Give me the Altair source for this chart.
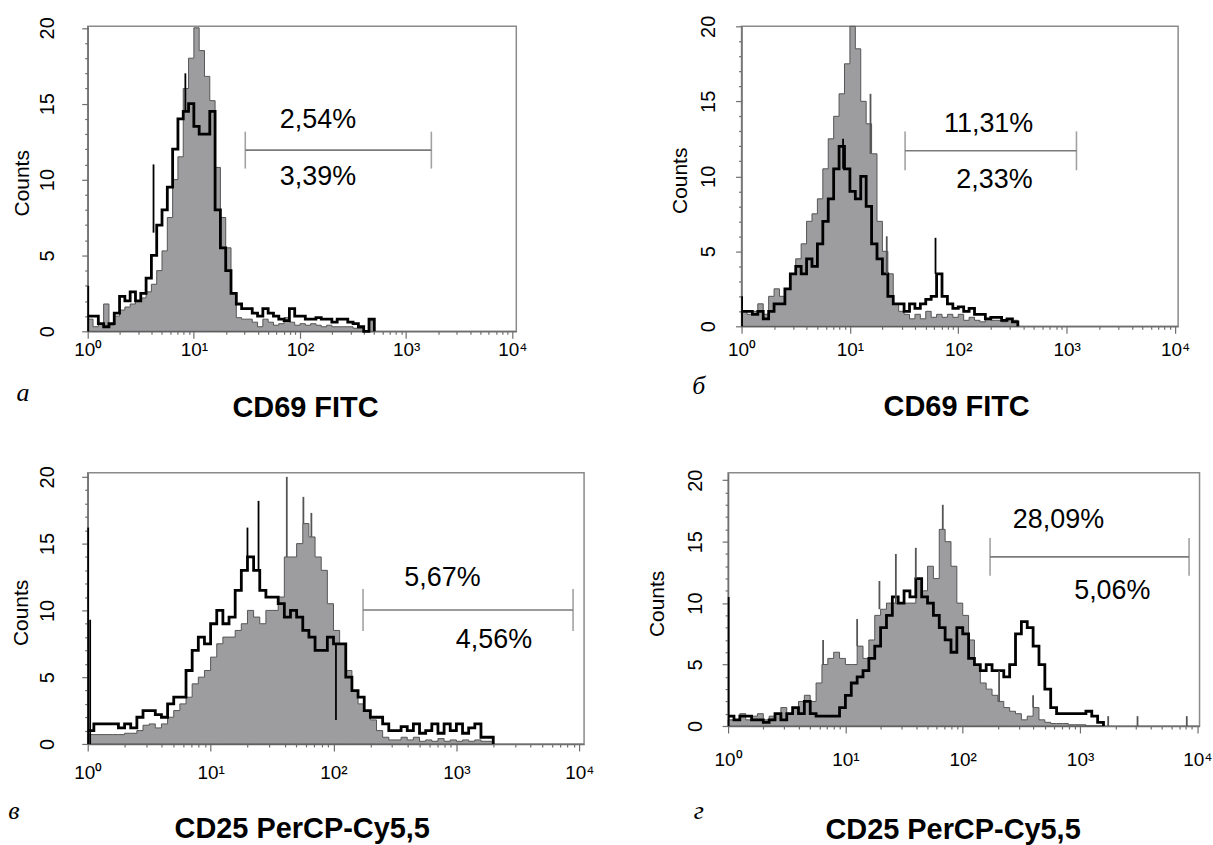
import altair as alt
import pandas as pd

STEP = 0.05  # histogram channel width, in decades

# ---------------- tick positions ----------------
X_TICKS = [m * 10 ** e for e in range(4) for m in range(1, 10)] + [10000]
Y_TICKS = list(range(0, 21))
SUPERSCRIPTS = ["⁰", "¹", "²", "³", "⁴"]

# ---------------- panel а ----------------
a_gray = [0.8, 0.3, 0.5, 1.8, 0.4, 1.0, 1.4, 1.6, 1.8, 2.0, 2.2, 2.6, 3.1, 4.0, 5.3, 7.5, 10.0, 11.5,
          16.0, 18.0, 20.0, 18.5, 16.8, 15.2, 10.8, 7.5, 5.5, 2.5, 0.9, 0.8, 0.8, 0.6, 0.3, 0.8, 0.6,
          0.4, 0.5, 0.9, 0.6, 0.4, 0.5, 0.4, 0.5, 0.4, 0.3, 0.4, 0.3, 0.3, 0.3, 0.3, 0.2, 0.2, 0.0,
          0.7, 0.0]
a_black = [1.0, 1.0, 0.5, 0.3, 0.5, 1.2, 2.3, 2.0, 2.6, 2.0, 2.5, 3.5, 5.0, 7.0, 8.0, 9.5, 12.0, 14.0,
           14.5, 15.0, 13.5, 13.0, 13.0, 14.5, 8.0, 5.5, 4.0, 2.5, 1.8, 1.5, 1.5, 1.2, 1.0, 1.5, 1.2,
           1.0, 0.8, 0.7, 1.5, 1.0, 1.0, 0.8, 0.8, 0.9, 0.8, 0.8, 0.6, 0.8, 0.8, 0.6, 0.5, 0.3, 0.0,
           0.8, 0.0]
a_spike_series = ["black", "black", "black"]
a_spike_log = [0.005, 0.62, 0.92]
a_spike_lo = [0.0, 6.5, 14.5]
a_spike_hi = [3.0, 11.0, 17.0]
a_gate = [30.5, 1727.0, 11.94]
a_pct_text = ["2,54%", "3,39%"]
a_pct_x = [147.6, 147.6]
a_pct_y = [13.9, 10.2]

# ---------------- panel б ----------------
b_gray = [1.0, 0.8, 1.0, 1.5, 0.8, 2.0, 2.5, 2.0, 2.5, 3.5, 4.5, 5.5, 7.0, 7.5, 8.5, 10.5, 12.5, 14.0,
          15.5, 17.5, 20.0, 18.5, 15.0, 13.5, 11.5, 7.0, 5.0, 3.5, 1.5, 1.0, 0.8, 0.5, 0.8, 0.5, 1.0,
          0.6, 0.8, 0.6, 0.8, 0.6, 0.8, 0.4, 0.6, 0.4, 0.3, 0.5, 0.4, 0.4, 0.3, 0.5, 0.4, 0.0]
b_black = [1.0, 1.0, 0.8, 1.0, 0.5, 1.0, 1.5, 1.5, 2.5, 3.5, 4.0, 3.5, 4.5, 4.0, 5.5, 7.0, 8.5, 10.5,
           12.0, 10.5, 9.0, 8.5, 10.0, 8.0, 5.5, 4.5, 3.5, 2.0, 1.5, 1.5, 1.0, 1.5, 1.2, 1.5, 1.8,
           2.0, 3.5, 2.0, 1.5, 1.2, 1.3, 1.0, 1.2, 0.8, 0.8, 0.5, 0.6, 0.6, 0.4, 0.5, 0.3, 0.0]
b_spike_series = ["black", "black", "gray", "gray", "black"]
b_spike_log = [0.005, 1.79, 1.19, 1.34, 0.937]
b_spike_lo = [0.0, 3.5, 11.5, 3.5, 10.5]
b_spike_hi = [2.0, 5.9, 15.5, 6.0, 12.5]
b_gate = [32.3, 1233.0, 11.7]
b_pct_text = ["11,31%", "2,33%"]
b_pct_x = [190.6, 216.0]
b_pct_y = [13.5, 9.75]

# ---------------- panel в ----------------
c_gray = [0.7, 0.7, 0.7, 0.7, 0.7, 0.7, 0.8, 0.8, 1.0, 1.4, 1.5, 1.2, 1.5, 2.0, 2.5, 3.0, 3.5, 4.5,
          5.0, 5.5, 6.5, 7.5, 8.0, 8.0, 8.5, 9.0, 10.0, 9.5, 9.0, 10.0, 10.0, 11.0, 14.0, 14.0, 15.0,
          16.5, 15.5, 14.0, 13.0, 10.5, 8.5, 7.5, 5.5, 4.0, 3.0, 2.5, 1.8, 1.0, 0.5, 0.3, 0.3, 0.5,
          0.3, 0.5, 0.2, 0.3, 0.2, 0.4, 0.2, 0.3, 0.2, 0.3, 0.2, 0.3, 0.2, 0.2, 0.0]
c_black = [1.0, 1.5, 1.5, 1.5, 1.5, 1.2, 1.5, 1.2, 2.0, 2.5, 2.5, 2.2, 2.0, 3.0, 3.5, 3.5, 5.5, 7.0,
           8.0, 7.5, 9.0, 10.0, 9.0, 9.5, 11.5, 13.0, 14.0, 13.0, 11.5, 11.0, 11.0, 10.5, 9.5, 10.0,
           9.5, 8.5, 8.0, 7.0, 7.0, 8.0, 7.5, 7.5, 5.0, 4.0, 3.5, 2.5, 2.0, 2.0, 1.5, 1.0, 1.0, 1.3,
           1.0, 1.5, 0.8, 1.0, 1.5, 0.8, 1.5, 1.0, 1.5, 0.8, 1.2, 1.5, 0.5, 0.5, 0.0]
c_spike_series = ["black", "black", "black", "black", "gray", "gray", "gray", "black"]
c_spike_log = [0.004, 0.02, 1.30, 1.39, 1.62, 1.755, 1.82, 2.02]
c_spike_lo = [0.0, 0.0, 14.0, 13.0, 14.0, 16.5, 15.5, 1.8]
c_spike_hi = [16.2, 9.3, 16.2, 18.2, 20.0, 18.5, 17.3, 7.5]
c_gate = [174.0, 8900.0, 10.03]
c_pct_text = ["5,67%", "4,56%"]
c_pct_x = [771.0, 2023.0]
c_pct_y = [12.4, 7.75]

# ---------------- panel г ----------------
d_gray = [0.5, 0.5, 1.0, 0.5, 0.8, 1.0, 0.5, 0.8, 1.0, 1.5, 1.0, 1.5, 2.0, 2.5, 2.0, 3.5, 5.0, 5.5,
          6.0, 5.5, 5.0, 5.0, 6.5, 5.5, 7.0, 9.0, 9.5, 10.0, 10.0, 10.0, 10.0, 10.0, 12.0, 11.0, 13.0,
          12.0, 16.0, 15.0, 13.0, 10.0, 9.0, 7.0, 5.0, 3.5, 3.0, 2.5, 2.0, 1.5, 1.2, 1.0, 0.5, 0.8,
          1.5, 0.5, 0.3, 0.2, 0.2, 0.2, 0.1, 0.1, 0.1, 0.0, 0.0, 0.0, 0.0]
d_black = [0.8, 0.5, 0.8, 0.8, 0.5, 0.5, 0.3, 0.5, 1.0, 0.5, 1.0, 1.5, 1.0, 2.0, 1.0, 0.8, 0.8, 0.8,
           0.8, 1.5, 2.5, 3.5, 4.0, 4.5, 5.5, 6.5, 8.0, 9.0, 10.5, 10.0, 11.0, 10.5, 12.0, 10.5, 10.0,
           9.0, 8.0, 7.0, 6.0, 8.0, 7.5, 5.5, 5.0, 4.5, 5.0, 4.5, 4.5, 4.0, 5.0, 7.5, 8.5, 8.0, 6.5,
           5.0, 3.0, 1.5, 1.0, 1.0, 1.0, 1.0, 1.0, 1.2, 0.8, 0.3, 0.0]
d_spike_series = ["black", "gray", "gray", "gray", "gray", "gray", "gray", "gray", "gray", "gray",
                  "gray", "gray"]
d_spike_log = [0.005, 1.83, 1.43, 1.60, 2.31, 0.81, 1.10, 1.29, 2.60, 3.24, 3.49, 3.91]
d_spike_lo = [0.0, 16.0, 10.0, 12.0, 2.0, 5.0, 6.5, 9.5, 1.5, 0.0, 0.0, 0.0]
d_spike_hi = [10.5, 18.0, 14.0, 14.5, 4.5, 7.0, 8.7, 11.8, 2.5, 0.8, 0.8, 0.8]
d_gate = [171.0, 8500.0, 13.76]
d_pct_text = ["28,09%", "5,06%"]
d_pct_x = [655.0, 1884.0]
d_pct_y = [16.8, 10.95]

X_TITLE_TOP = "CD69 FITC"
X_TITLE_BOTTOM = "CD25 PerCP-Cy5,5"
LETTERS = ["а", "б", "в", "г"]

GRAY_FILL = "#9d9d9f"
GRAY_LINE = "#555555"
AXIS_GRAY = "#6e6e6e"
FONT = "Liberation Sans"

IS_DECADE = "abs(log(datum.value)/LN10 - round(log(datum.value)/LN10)) < 0.001"


def make_panel(gray, black, sp_series, sp_log, sp_lo, sp_hi, gate, pct_text, pct_x, pct_y,
               letter, xtitle, L, anchors=()):
    logs = [i * STEP for i in range(len(gray))]
    hist = pd.DataFrame({"x": [10 ** v for v in logs], "gray": gray, "black": black})
    xs = alt.Scale(type="log", domain=[1, L["xmax"]], nice=False)
    ys = alt.Scale(domain=[0, L["ymax"]], nice=False, zero=True)

    sup = "[" + ",".join("'" + s + "'" for s in SUPERSCRIPTS) + "]"
    xaxis = alt.Axis(
        orient="bottom", values=X_TICKS,
        labelExpr=f"{IS_DECADE} ? '10' + {sup}[round(log(datum.value)/LN10)] : ''",
        tickSize={"condition": {"test": IS_DECADE, "value": 7}, "value": 3},
        labelFontSize=19, labelPadding=L["xlab_pad"], labelBaseline="middle",
        labelFlush=False, labelOverlap=False, grid=False,
        title=xtitle, titleX=L["title_x"], titleY=L["title_y"], titleFontSize=29,
        titleFontWeight="bold", titleBaseline="middle", titleAlign="center",
    )
    yaxis = alt.Axis(
        orient="left", values=Y_TICKS,
        labelExpr="datum.value % 5 == 0 ? datum.label : ''",
        tickSize={"condition": {"test": "datum.value % 5 == 0", "value": 6}, "value": 3},
        labelAngle=270, labelAlign="center", labelBaseline="middle",
        labelPadding=L["ylab_pad"], labelFontSize=20, labelOverlap=False, labelFlush=False,
        grid=False, title="Counts", titleAngle=270, titleX=L["counts_x"],
        titleY=L["h"] / 2 + 4, titleAlign="center", titleBaseline="middle",
        titleFontSize=21, titleFontWeight="normal",
    )

    def X(field):
        return alt.X(field, scale=xs, axis=xaxis)

    def Y(field):
        return alt.Y(field, scale=ys, axis=yaxis)

    area = alt.Chart(hist).mark_area(
        interpolate="step-after", color=GRAY_FILL, stroke=GRAY_LINE, strokeWidth=1
    ).encode(x=X("x:Q"), y=Y("gray:Q"))

    line = alt.Chart(hist).mark_line(
        interpolate="step-after", color="black", strokeWidth=2.8
    ).encode(x=X("x:Q"), y=Y("black:Q"))

    sp = pd.DataFrame({"x": [10 ** v for v in sp_log], "lo": sp_lo, "hi": sp_hi, "s": sp_series})
    spikes = alt.Chart(sp).mark_rule(strokeWidth=1.8).encode(
        x=X("x:Q"), y=Y("lo:Q"), y2="hi:Q",
        color=alt.Color("s:N", scale=alt.Scale(domain=["gray", "black"],
                                                range=[GRAY_LINE, "#000000"]), legend=None),
    )

    g = pd.DataFrame({"x": [gate[0]], "x2": [gate[1]], "y": [gate[2]]})
    gate_h = alt.Chart(g).mark_rule(color="#7b7b7b", strokeWidth=1.6).encode(
        x=X("x:Q"), x2="x2:Q", y=Y("y:Q"))
    ge = pd.DataFrame({"x": [gate[0], gate[1]], "y": [gate[2], gate[2]]})
    gate_t = alt.Chart(ge).mark_tick(orient="vertical", color="#7b7b7b", thickness=1.6,
                                     size=L["gate_px"]).encode(x=X("x:Q"), y=Y("y:Q"))

    t = pd.DataFrame({"t": pct_text, "x": pct_x, "y": pct_y})
    texts = alt.Chart(t).mark_text(font=FONT, fontSize=27, color="black", align="center",
                                   baseline="middle").encode(x=X("x:Q"), y=Y("y:Q"), text="t:N")

    let = alt.Chart(pd.DataFrame({"t": [letter]})).mark_text(
        font="Liberation Serif", fontStyle="italic", fontSize=26, color="black",
        align="center", baseline="middle",
    ).encode(x=alt.value(L["letter_x"]), y=alt.value(L["letter_y"]), text="t:N")

    layers = [area, line, spikes, gate_h, gate_t, texts, let]
    # invisible white layout anchors (fix the outer bounds of the panel)
    for ax, ay in anchors:
        layers.append(alt.Chart(pd.DataFrame({"a": [0]})).mark_rule(color="white", strokeWidth=1).encode(
            x=alt.value(ax), x2=alt.value(ax + 1), y=alt.value(ay)))
    return alt.layer(*layers).properties(width=L["w"], height=L["h"])


LA = dict(w=430, h=306, xmax=10904, ymax=20.1, title_x=218, title_y=76.7, counts_x=-65,
          xlab_pad=11, ylab_pad=34, letter_x=-65, letter_y=367.7, gate_px=37)
LB = dict(w=438, h=301, xmax=10690, ymax=20.0, title_x=215.3, title_y=80, counts_x=-61,
          xlab_pad=16, ylab_pad=27, letter_x=-43, letter_y=361, gate_px=39)
LC = dict(w=498, h=272, xmax=10940, ymax=20.3, title_x=214.7, title_y=84.5, counts_x=-66,
          xlab_pad=22, ylab_pad=34, letter_x=-74, letter_y=339, gate_px=42)
LD = dict(w=473, h=254, xmax=10440, ymax=20.6, title_x=225.2, title_y=103.5, counts_x=-71,
          xlab_pad=27, ylab_pad=27, letter_x=-29.5, letter_y=339, gate_px=38)

pa = make_panel(a_gray, a_black, a_spike_series, a_spike_log, a_spike_lo, a_spike_hi, a_gate,
                a_pct_text, a_pct_x, a_pct_y, LETTERS[0], X_TITLE_TOP, LA,
                anchors=[(-84.5, -23.5), (-84.5, 406)])
pb = make_panel(b_gray, b_black, b_spike_series, b_spike_log, b_spike_lo, b_spike_hi, b_gate,
                b_pct_text, b_pct_x, b_pct_y, LETTERS[1], X_TITLE_TOP, LB)
pc = make_panel(c_gray, c_black, c_spike_series, c_spike_log, c_spike_lo, c_spike_hi, c_gate,
                c_pct_text, c_pct_x, c_pct_y, LETTERS[2], X_TITLE_BOTTOM, LC,
                anchors=[(-86.5, -20)])
pd_ = make_panel(d_gray, d_black, d_spike_series, d_spike_log, d_spike_lo, d_spike_hi, d_gate,
                 d_pct_text, d_pct_x, d_pct_y, LETTERS[3], X_TITLE_BOTTOM, LD)

row1 = alt.hconcat(pa, pb, spacing=226, bounds="flush")
row2 = alt.hconcat(pc, pd_, spacing=144.5, bounds="flush")

chart = (
    alt.vconcat(row1, row2, spacing=18, bounds="full")
    .properties(padding=0, background="white")
    .configure_view(stroke="#8a8a8a", strokeWidth=1.5)
    .configure_axis(domainColor=AXIS_GRAY, tickColor=AXIS_GRAY, domainWidth=1.4, tickWidth=1.2,
                    labelColor="black", titleColor="black", labelFont=FONT, titleFont=FONT)
)

chart.save("out.html", embed_options={"renderer": "svg", "actions": False})
